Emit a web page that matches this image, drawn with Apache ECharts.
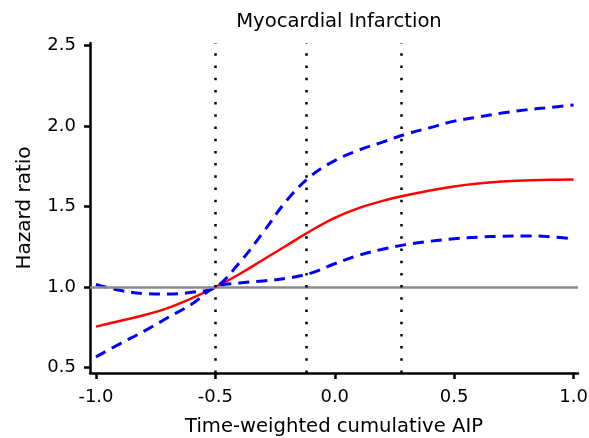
<!DOCTYPE html>
<html>
<head>
<meta charset="utf-8">
<script src="https://cdn.jsdelivr.net/npm/echarts@6/dist/echarts.min.js"></script>
<style>
  html, body { margin: 0; padding: 0; background: #fff; }
  #chart { width: 589px; height: 438px; }
</style>
</head>
<body>
<div id="chart"></div>
<script>
// x grid for the curves
const aip = [-1.0, -0.9, -0.8, -0.7, -0.6, -0.5, -0.4, -0.3, -0.2, -0.1, 0.0,
  0.1, 0.2, 0.3, 0.4, 0.5, 0.6, 0.7, 0.8, 0.9, 1.0]
// hazard ratio estimate (red)
const hr = [0.755, 0.79, 0.825, 0.87, 0.93, 1.0, 1.08, 1.17, 1.26, 1.35, 1.43,
  1.49, 1.535, 1.57, 1.60, 1.625, 1.643, 1.655, 1.662, 1.666, 1.668]
// 95% CI (blue dashed)
const upper = [1.017, 0.98, 0.96, 0.957, 0.968, 1.0, 1.15, 1.34, 1.54, 1.69, 1.785,
  1.85, 1.90, 1.95, 1.99, 2.03, 2.055, 2.08, 2.10, 2.115, 2.13]
const lower = [0.567, 0.648, 0.725, 0.81, 0.893, 1.0, 1.025, 1.038, 1.055, 1.087, 1.145,
  1.197, 1.235, 1.264, 1.285, 1.30, 1.31, 1.316, 1.318, 1.313, 1.30]
// knots (dotted verticals) and reference line
const knots = [-0.5, -0.12, 0.28]
const refHR = 1.0
const xTicks = [-1.0, -0.5, 0.0, 0.5, 1.0]
const yTicks = [0.5, 1.0, 1.5, 2.0, 2.5]

const pairs = ys => aip.map((x, i) => [x, ys[i]])
const font = 'DejaVu Sans'

const chart = echarts.init(document.getElementById('chart'))
chart.setOption({
  animation: false,
  title: {
    text: 'Myocardial Infarction',
    left: 334, top: 7, textAlign: 'center',
    textStyle: { fontFamily: font, fontSize: 19.6, fontWeight: 'normal', color: '#000' }
  },
  grid: { left: 90, right: 11, top: 43, bottom: 65, containLabel: false, outerBoundsMode: 'none' },
  xAxis: {
    type: 'value', min: -1.025, max: 1.0186,
    name: 'Time-weighted cumulative AIP',
    nameLocation: 'middle', nameGap: 44,
    nameTextStyle: { fontFamily: font, fontSize: 19.6, color: '#000' },
    axisLine: { show: true, onZero: false, lineStyle: { color: '#000', width: 2.5 } },
    axisTick: { show: true, length: 6, lineStyle: { color: '#000', width: 2.5 }, customValues: xTicks },
    axisLabel: {
      margin: 15, fontFamily: font, fontSize: 18, color: '#000',
      customValues: xTicks, formatter: v => v.toFixed(1)
    },
    splitLine: { show: false }
  },
  yAxis: {
    type: 'value', min: 0.467, max: 2.515,
    name: 'Hazard ratio',
    nameLocation: 'middle', nameGap: 55, nameRotate: 90,
    nameTextStyle: { fontFamily: font, fontSize: 20, color: '#000' },
    axisLine: { show: true, onZero: false, lineStyle: { color: '#000', width: 2.5 } },
    axisTick: { show: true, length: 6, lineStyle: { color: '#000', width: 2.5 }, customValues: yTicks },
    axisLabel: {
      margin: 14, fontFamily: font, fontSize: 18, color: '#000',
      customValues: yTicks, formatter: v => v.toFixed(1)
    },
    splitLine: { show: false }
  },
  series: [
    {
      type: 'line', data: [], silent: true,
      markLine: {
        symbol: 'none', silent: true, label: { show: false },
        lineStyle: { color: '#8a8a8a', width: 2.5, type: 'solid' },
        data: [{ yAxis: refHR }]
      }
    },
    {
      type: 'line', data: [], silent: true,
      markLine: {
        symbol: 'none', silent: true, label: { show: false },
        lineStyle: { color: '#000', width: 2.5, type: [2.5, 9.7] },
        data: knots.map(k => ({ xAxis: k }))
      }
    },
    {
      name: 'HR', type: 'line', data: pairs(hr), smooth: 0.4, showSymbol: false,
      lineStyle: { color: '#ff0000', width: 2.5 }
    },
    {
      name: 'Upper', type: 'line', data: pairs(upper), smooth: 0.4, showSymbol: false,
      lineStyle: { color: '#0000ff', width: 3, type: [11, 7] }
    },
    {
      name: 'Lower', type: 'line', data: pairs(lower), smooth: 0.4, showSymbol: false,
      lineStyle: { color: '#0000ff', width: 3, type: [11, 7] }
    }
  ]
})
</script>
</body>
</html>
